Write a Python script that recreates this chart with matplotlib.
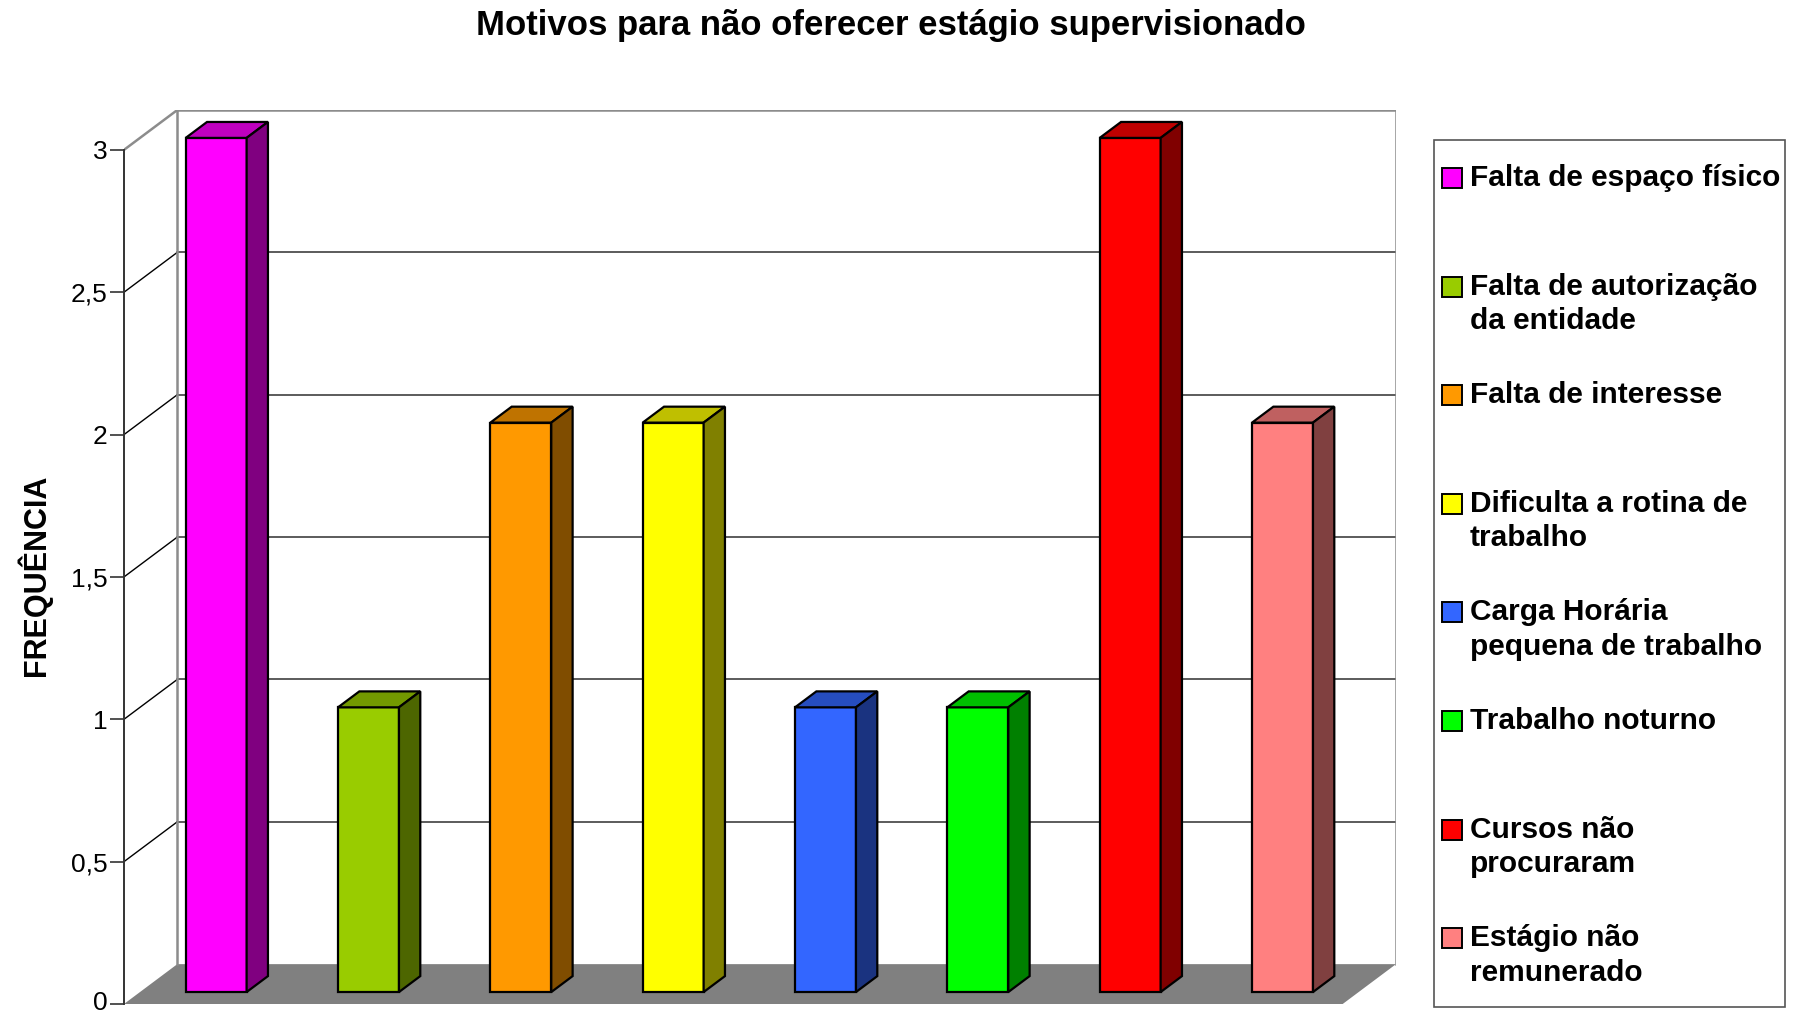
import numpy as np
import matplotlib
matplotlib.use("Agg")
import matplotlib.pyplot as plt
from matplotlib.colors import to_rgb
from matplotlib.patches import Polygon, Rectangle
from matplotlib.transforms import ScaledTranslation

plt.rcParams['font.family'] = ['Liberation Sans', 'DejaVu Sans']

# data
categorias = [
    "Falta de espaço físico",
    "Falta de autorização\nda entidade",
    "Falta de interesse",
    "Dificulta a rotina de\ntrabalho",
    "Carga Horária\npequena de trabalho",
    "Trabalho noturno",
    "Cursos não\nprocuraram",
    "Estágio não\nremunerado",
]
frequencia = [3, 1, 2, 2, 1, 1, 3, 2]
cores = ["#FF00FF", "#99CC00", "#FF9900", "#FFFF00",
         "#3366FF", "#00FF00", "#FF0000", "#FF8080"]
yticks = [0, 0.5, 1, 1.5, 2, 2.5, 3]
ytick_labels = ["0", "0,5", "1", "1,5", "2", "2,5", "3"]

W, H = 1800, 1014
fig = plt.figure(figsize=(W / 100, H / 100), dpi=100)

# pseudo 3D depth (in data units) and bar depth range
DX, DY = 0.35, 0.14
f1, f2 = 0.3, 0.7
n = len(frequencia)
ymax = 3

ax = fig.add_axes([124 / W, 10 / H, 1272 / W, 894 / H])
ax.set_xlim(0, n + DX)
ax.set_ylim(0, ymax + DY)

# floor
ax.add_patch(Polygon([(0, 0), (n, 0), (n + DX, DY), (DX, DY)],
                     closed=True, facecolor="#808080", edgecolor="none", zorder=1))

# back wall grid and side diagonals
for v in yticks[1:-1]:
    ax.plot([DX, n + DX], [v + DY, v + DY], color="#404040", lw=1.2, zorder=1)
    ax.plot([0, DX], [v, v + DY], color="black", lw=1.0, zorder=1)

# back wall frame
gray = "#8c8c8c"
ax.plot([DX, DX, n + DX, n + DX], [DY, ymax + DY, ymax + DY, DY], color=gray, lw=1.8, zorder=1)
ax.plot([0, DX], [ymax, ymax + DY], color=gray, lw=1.8, zorder=1)

# bars: front faces
xpos = np.arange(n) + 0.5
bw = 0.4
ax.bar(xpos + f1 * DX, frequencia, width=bw, bottom=f1 * DY, color=cores,
       edgecolor="black", linewidth=1.6, zorder=3)

# bars: top and side faces
ddx, ddy = (f2 - f1) * DX, (f2 - f1) * DY
for x, v, c in zip(xpos, frequencia, cores):
    rgb = np.array(to_rgb(c))
    xl = x + f1 * DX - bw / 2
    xr = x + f1 * DX + bw / 2
    y0 = f1 * DY
    top = [(xl, v + y0), (xr, v + y0), (xr + ddx, v + y0 + ddy), (xl + ddx, v + y0 + ddy)]
    side = [(xr, y0), (xr, v + y0), (xr + ddx, v + y0 + ddy), (xr + ddx, y0 + ddy)]
    ax.add_patch(Polygon(top, closed=True, facecolor=rgb * 0.75, edgecolor="black",
                         linewidth=1.6, zorder=3))
    ax.add_patch(Polygon(side, closed=True, facecolor=rgb * 0.5, edgecolor="black",
                         linewidth=1.6, zorder=3))

# axis styling
for s in ["top", "right", "bottom"]:
    ax.spines[s].set_visible(False)
ax.spines["left"].set_bounds(0, ymax)
ax.spines["left"].set_color("#333333")
ax.spines["left"].set_linewidth(1.4)
ax.set_xticks([])
ax.set_yticks(yticks)
ax.set_yticklabels(ytick_labels)
ax.tick_params(axis="y", direction="out", length=10, width=1.2, color="#333333",
               pad=2, labelsize=19)
ax.patch.set_alpha(0)
# keep the "0" label inside the figure edge
lab0 = ax.get_yticklabels()[0]
lab0.set_transform(lab0.get_transform() + ScaledTranslation(0, 3 / 100, fig.dpi_scale_trans))

# titles
fig.text(891 / W, 1 - 25 / H, "Motivos para não oferecer estágio supervisionado",
         ha="center", va="center", fontsize=25, fontweight="bold")
fig.text(34 / W, 1 - 575 / H, "FREQUÊNCIA", rotation=90, ha="center", va="center",
         fontsize=22, fontweight="bold")

# legend
fig.patches.append(Rectangle((1434 / W, 1 - 1007 / H), (1785 - 1434) / W, (1007 - 140) / H,
                             transform=fig.transFigure, facecolor="none",
                             edgecolor="#555555", linewidth=1.2))
for i, (lab, c) in enumerate(zip(categorias, cores)):
    yc = 178 + i * 108.6
    fig.patches.append(Rectangle((1442 / W, 1 - (yc + 10) / H), 20 / W, 20 / H,
                                 transform=fig.transFigure, facecolor=c,
                                 edgecolor="black", linewidth=1.4))
    for k, line in enumerate(lab.split("\n")):
        fig.text(1470 / W, 1 - (yc + k * 34.5) / H, line, ha="left", va="center",
                 fontsize=21.5, fontweight="bold")

plt.savefig("out.png", dpi=100)
